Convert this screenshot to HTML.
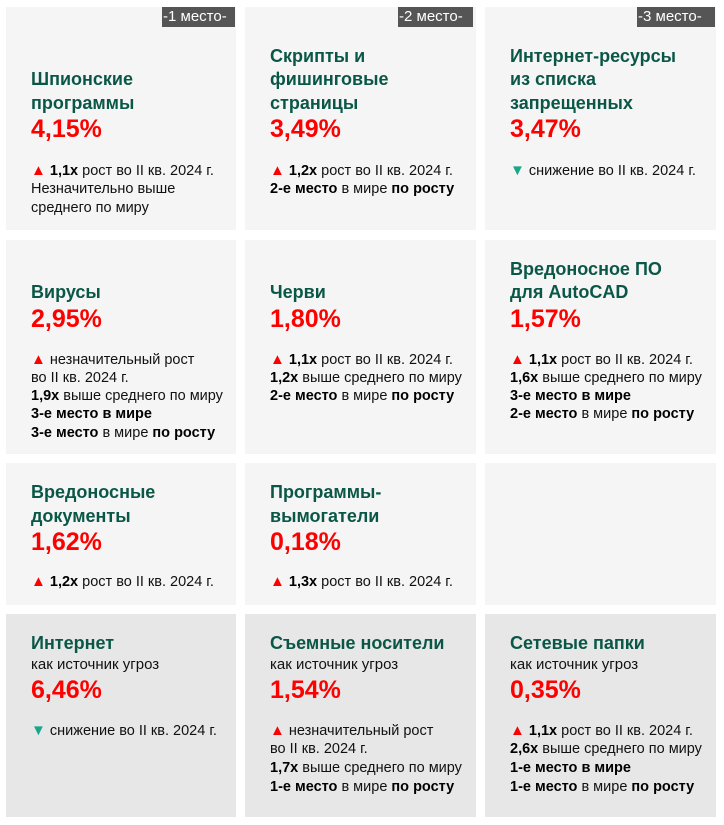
<!DOCTYPE html>
<html><head><meta charset="utf-8"><style>
body{margin:0;width:724px;height:825px;background:#fff;position:relative;overflow:hidden;font-family:"Liberation Sans","DejaVu Sans",sans-serif;}
.c{position:absolute;background:#f5f5f5;}
.g{background:#e7e7e7;}
.l{position:absolute;white-space:nowrap;height:20px;line-height:20px;}
.t{font-size:18px;font-weight:bold;color:#0b5747;}
.p{font-size:25px;font-weight:bold;color:#f00;height:30px;line-height:30px;}
.b{font-size:14.5px;color:#111;}
.s{font-size:15px;color:#111;}
.b b{color:#000}
.up{color:#f00;font-size:15px}
.dn{color:#1aa68a;font-size:15px}
.bd{position:absolute;background:#555;color:#fff;font-size:15px;height:20px;line-height:20px;top:7px;padding:0 1px;}
</style></head><body>
<div class="c" style="left:6px;top:7px;width:230px;height:223px"></div>
<div class="c" style="left:245px;top:7px;width:231px;height:223px"></div>
<div class="c" style="left:485px;top:7px;width:231px;height:223px"></div>
<div class="c" style="left:6px;top:240px;width:230px;height:214px"></div>
<div class="c" style="left:245px;top:240px;width:231px;height:214px"></div>
<div class="c" style="left:485px;top:240px;width:231px;height:214px"></div>
<div class="c" style="left:6px;top:463px;width:230px;height:142px"></div>
<div class="c" style="left:245px;top:463px;width:231px;height:142px"></div>
<div class="c" style="left:485px;top:463px;width:231px;height:142px"></div>
<div class="c g" style="left:6px;top:614px;width:230px;height:203px"></div>
<div class="c g" style="left:245px;top:614px;width:231px;height:203px"></div>
<div class="c g" style="left:485px;top:614px;width:231px;height:203px"></div>

<div class="bd" style="left:162px;width:71px">-1 место-</div>
<div class="bd" style="left:398px;width:73px">-2 место-</div>
<div class="bd" style="left:637px;width:76px">-3 место-</div>

<!-- row1 -->
<div class="l t" style="left:31px;top:69px">Шпионские</div>
<div class="l t" style="left:31px;top:93px">программы</div>
<div class="l p" style="left:31px;top:114px">4,15%</div>
<div class="l b" style="left:31px;top:161px"><span class="up">▲</span> <b>1,1x</b> рост во II кв. 2024 г.</div>
<div class="l b" style="left:31px;top:179px">Незначительно выше</div>
<div class="l b" style="left:31px;top:198px">среднего по миру</div>

<div class="l t" style="left:270px;top:46px">Скрипты и</div>
<div class="l t" style="left:270px;top:69px">фишинговые</div>
<div class="l t" style="left:270px;top:93px">страницы</div>
<div class="l p" style="left:270px;top:114px">3,49%</div>
<div class="l b" style="left:270px;top:161px"><span class="up">▲</span> <b>1,2x</b> рост во II кв. 2024 г.</div>
<div class="l b" style="left:270px;top:179px"><b>2-е место</b> в мире <b>по росту</b></div>

<div class="l t" style="left:510px;top:46px">Интернет-ресурсы</div>
<div class="l t" style="left:510px;top:69px">из списка</div>
<div class="l t" style="left:510px;top:93px">запрещенных</div>
<div class="l p" style="left:510px;top:114px">3,47%</div>
<div class="l b" style="left:510px;top:161px"><span class="dn">▼</span> снижение во II кв. 2024 г.</div>

<!-- row2 -->
<div class="l t" style="left:31px;top:282px">Вирусы</div>
<div class="l p" style="left:31px;top:304px">2,95%</div>
<div class="l b" style="left:31px;top:350px"><span class="up">▲</span> незначительный рост</div>
<div class="l b" style="left:31px;top:368px">во II кв. 2024 г.</div>
<div class="l b" style="left:31px;top:386px"><b>1,9x</b> выше среднего по миру</div>
<div class="l b" style="left:31px;top:404px"><b>3-е место в мире</b></div>
<div class="l b" style="left:31px;top:423px"><b>3-е место</b> в мире <b>по росту</b></div>

<div class="l t" style="left:270px;top:282px">Черви</div>
<div class="l p" style="left:270px;top:304px">1,80%</div>
<div class="l b" style="left:270px;top:350px"><span class="up">▲</span> <b>1,1x</b> рост во II кв. 2024 г.</div>
<div class="l b" style="left:270px;top:368px"><b>1,2x</b> выше среднего по миру</div>
<div class="l b" style="left:270px;top:386px"><b>2-е место</b> в мире <b>по росту</b></div>

<div class="l t" style="left:510px;top:259px">Вредоносное ПО</div>
<div class="l t" style="left:510px;top:282px">для AutoCAD</div>
<div class="l p" style="left:510px;top:304px">1,57%</div>
<div class="l b" style="left:510px;top:350px"><span class="up">▲</span> <b>1,1x</b> рост во II кв. 2024 г.</div>
<div class="l b" style="left:510px;top:368px"><b>1,6x</b> выше среднего по миру</div>
<div class="l b" style="left:510px;top:386px"><b>3-е место в мире</b></div>
<div class="l b" style="left:510px;top:404px"><b>2-е место</b> в мире <b>по росту</b></div>

<!-- row3 -->
<div class="l t" style="left:31px;top:482px">Вредоносные</div>
<div class="l t" style="left:31px;top:506px">документы</div>
<div class="l p" style="left:31px;top:527px">1,62%</div>
<div class="l b" style="left:31px;top:572px"><span class="up">▲</span> <b>1,2x</b> рост во II кв. 2024 г.</div>

<div class="l t" style="left:270px;top:482px">Программы-</div>
<div class="l t" style="left:270px;top:506px">вымогатели</div>
<div class="l p" style="left:270px;top:527px">0,18%</div>
<div class="l b" style="left:270px;top:572px"><span class="up">▲</span> <b>1,3x</b> рост во II кв. 2024 г.</div>

<!-- row4 -->
<div class="l t" style="left:31px;top:633px">Интернет</div>
<div class="l s" style="left:31px;top:655px">как источник угроз</div>
<div class="l p" style="left:31px;top:675px">6,46%</div>
<div class="l b" style="left:31px;top:721px"><span class="dn">▼</span> снижение во II кв. 2024 г.</div>

<div class="l t" style="left:270px;top:633px">Съемные носители</div>
<div class="l s" style="left:270px;top:655px">как источник угроз</div>
<div class="l p" style="left:270px;top:675px">1,54%</div>
<div class="l b" style="left:270px;top:721px"><span class="up">▲</span> незначительный рост</div>
<div class="l b" style="left:270px;top:739px">во II кв. 2024 г.</div>
<div class="l b" style="left:270px;top:758px"><b>1,7x</b> выше среднего по миру</div>
<div class="l b" style="left:270px;top:777px"><b>1-е место</b> в мире <b>по росту</b></div>

<div class="l t" style="left:510px;top:633px">Сетевые папки</div>
<div class="l s" style="left:510px;top:655px">как источник угроз</div>
<div class="l p" style="left:510px;top:675px">0,35%</div>
<div class="l b" style="left:510px;top:721px"><span class="up">▲</span> <b>1,1x</b> рост во II кв. 2024 г.</div>
<div class="l b" style="left:510px;top:739px"><b>2,6x</b> выше среднего по миру</div>
<div class="l b" style="left:510px;top:758px"><b>1-е место в мире</b></div>
<div class="l b" style="left:510px;top:777px"><b>1-е место</b> в мире <b>по росту</b></div>
</body></html>
